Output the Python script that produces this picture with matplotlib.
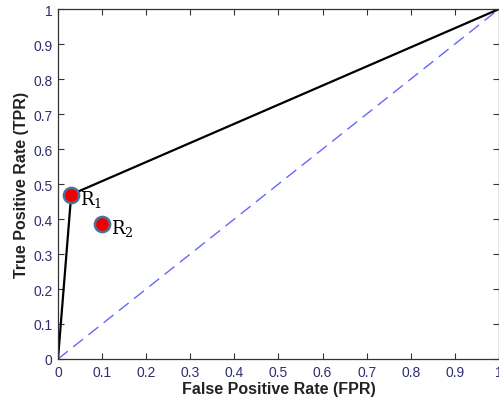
import matplotlib
matplotlib.use("Agg")
import matplotlib.pyplot as plt
import numpy as np

# ROC points
roc_fpr = [0.0, 0.03, 1.0]
roc_tpr = [0.0, 0.47, 1.0]
chance = [0.0, 1.0]
pt_names = ["R$_1$", "R$_2$"]
pt_fpr = [0.03, 0.10]
pt_tpr = [0.47, 0.385]

plt.rcParams['font.family'] = 'Liberation Sans'
plt.rcParams['mathtext.fontset'] = 'dejavuserif'

fig = plt.figure(figsize=(4.99, 4.02), dpi=100)
ax = fig.add_axes([0.1162, 0.1045, 0.8838, 0.8705])

ax.plot(chance, chance, color='#6666ff', linestyle=(0, (9, 5)), linewidth=1.0)
ax.plot(roc_fpr, roc_tpr, color='black', linewidth=1.6)
ax.scatter(pt_fpr, pt_tpr, s=120, color='#ee0000', edgecolor='#4f6f9c', linewidth=1.8, zorder=5)
for name, x, y in zip(pt_names, pt_fpr, pt_tpr):
    ax.text(x + 0.02, y - 0.01, name, fontsize=13, family='DejaVu Serif',
            ha='left', va='center')

ax.set_xlim(0, 1)
ax.set_ylim(0, 1)
ticks = np.round(np.arange(0, 1.01, 0.1), 1)
ax.set_xticks(ticks)
ax.set_yticks(ticks)
lbls = ['0'] + [f"{t:g}" for t in ticks[1:-1]] + ['1']
ax.set_xticklabels(lbls)
ax.set_yticklabels(lbls)
ax.tick_params(direction='in', top=True, right=True, length=4, width=0.8,
               labelsize=10, labelcolor='#2e2e70', color='#333333', pad=4)
for s in ax.spines.values():
    s.set_color('#333333')
    s.set_linewidth(0.9)

ax.set_xlabel("False Positive Rate (FPR)", fontsize=11.5, fontweight='bold', color='#222222', labelpad=2)
ax.set_ylabel("True Positive Rate (TPR)", fontsize=11.5, fontweight='bold', color='#222222', labelpad=3)

fig.savefig("out.png", dpi=100)
